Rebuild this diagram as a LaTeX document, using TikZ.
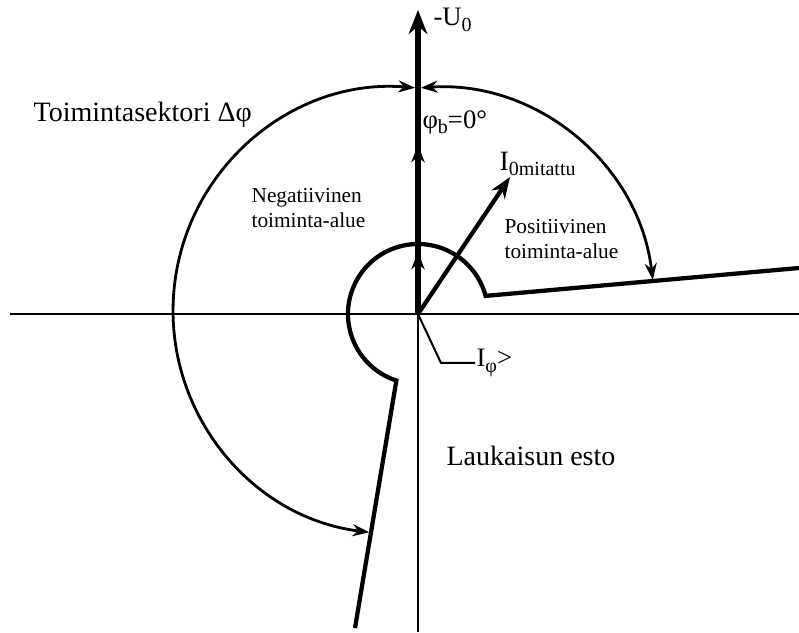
\documentclass[tikz,border=0pt]{standalone}
\usepackage{fontspec}
\setmainfont{Liberation Serif}
\usetikzlibrary{arrows.meta}
\newcommand{\lowidx}[1]{\raisebox{-0.45ex}{\fontsize{15}{15}\selectfont #1}}

\begin{document}
\begin{tikzpicture}[x=0.75pt,y=0.75pt,>={Stealth[length=12.5pt,width=9pt]},font=\fontsize{20}{22}\selectfont]
  \tikzset{axis/.style={line width=2.2pt},
    bound/.style={line width=3.2pt},
    sector/.style={line width=2.1pt,<->},
    vec/.style={line width=4.2pt,-{Stealth[length=18pt,width=14pt]}},
    vecmid/.style={line width=4.2pt,-{Stealth[length=13pt,width=10pt]}},
    lbl/.style={anchor=west,inner sep=1pt},
    small/.style={lbl,font=\fontsize{16}{19}\selectfont,align=left}}
  \useasboundingbox (0,0) rectangle (799,632);
  \coordinate (O) at (418,318);
  % axes
  \draw[axis] (10,318) -- (799,318);
  \draw[axis] (418,0) -- (O);
  % reference direction -U0
  \draw[vec] (O) -- (418,622);
  \draw[vecmid] (O) -- (418,380);
  \draw[vecmid] (O) -- (418,487);
  % measured current
  \draw[line width=3.2pt,-{Stealth[length=16pt,width=12pt]}] (O) -- (510,455);
  % boundary of the operating area
  \draw[bound] (799,364) -- (485.6,336.1) arc[start angle=15, end angle=252, radius=52.5pt] -- (355,4);
  % operating sector
  \draw[sector] (415,544.2) arc[start angle=85.25, end angle=263, radius=167.6pt];
  \draw[sector] (420.9,544.2) arc[start angle=93.9, end angle=6.8, radius=163.9pt];
  % labels
  \node[lbl] (u0) at (432,612) {-U\lowidx{0}};
  \node[lbl] (phib) at (421,510) {φ\lowidx{b}=0°};
  \node[lbl,font=\fontsize{21}{23}\selectfont] (i0) at (498,468) {I\lowidx{0mitattu}};
  \node[small] (pos) at (503,393) {Positiivinen\\toiminta-alue};
  \node[small] (neg) at (250,424) {Negatiivinen\\toiminta-alue};
  \node[lbl,font=\fontsize{21}{23}\selectfont] (sect) at (32,517) {Toimintasektori Δφ};
  \node[lbl,font=\fontsize{21}{23}\selectfont] (esto) at (445,176) {Laukaisun esto};
  \node[lbl] (iphi) at (475,269) {I\lowidx{φ}>};
  \draw[line width=1.5pt] (O) -- (441,269) -- (iphi.west);
\end{tikzpicture}
\end{document}
